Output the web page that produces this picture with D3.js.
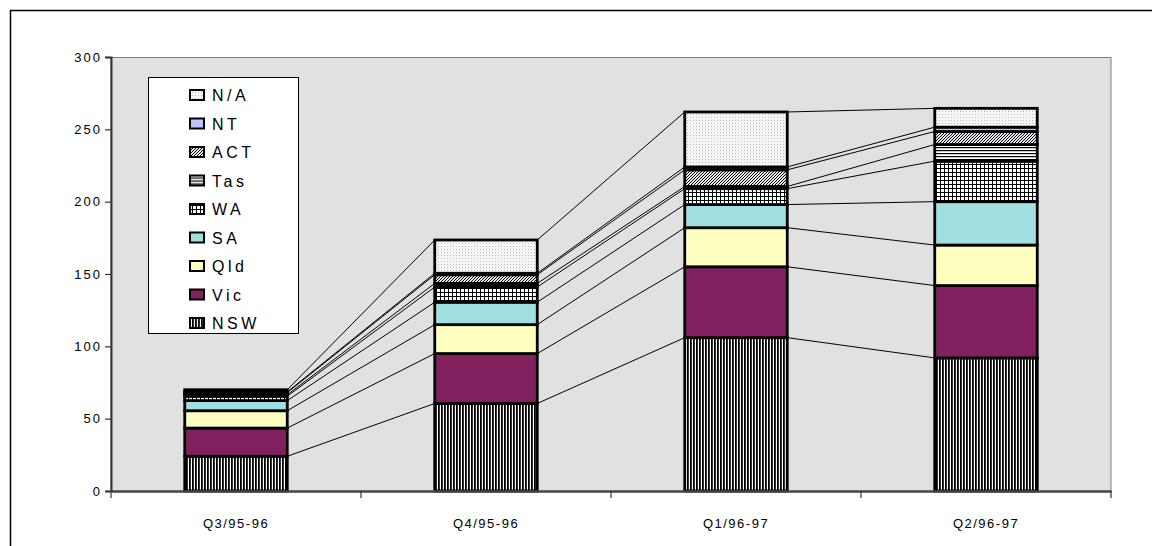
<!DOCTYPE html>
<html>
<head>
<meta charset="utf-8">
<script src="https://cdn.jsdelivr.net/npm/d3@7"></script>
<style>
  html, body { margin: 0; padding: 0; background: #fff; }
  svg { display: block; }
  text { font-family: Arial, "Liberation Sans", sans-serif; fill: #000; }
</style>
</head>
<body>
<svg id="chart" width="1152" height="546"></svg>
<script>
// Quarters along the x axis
const quarters = ["Q3/95-96", "Q4/95-96", "Q1/96-97", "Q2/96-97"];
// States, bottom of the stack first
const states = ["NSW", "Vic", "Qld", "SA", "WA", "Tas", "ACT", "NT", "N/A"];
// Values per state, one entry per quarter
const NSW = [24, 60.5, 106, 92];
const Vic = [19.5, 34.5, 49, 50];
const Qld = [12, 20, 27, 28];
const SA  = [7, 15.5, 16, 30];
const WA  = [3, 10.5, 11, 28];
const Tas = [1, 2.5, 1.5, 11.5];
const ACT = [1.5, 6, 11.5, 9];
const NT  = [0.5, 1, 2, 3];
const NA  = [1.5, 23, 38, 13];
const yTicks = [0, 50, 100, 150, 200, 250, 300];

const seriesValues = { NSW, Vic, Qld, SA, WA, Tas, ACT, NT, "N/A": NA };
const rows = quarters.map((q, i) => {
  const r = { quarter: q };
  states.forEach(s => r[s] = seriesValues[s][i]);
  return r;
});

const svg = d3.select("#chart");
const defs = svg.append("defs");

// Fill patterns
function pattern(id, w, h, draw) {
  const p = defs.append("pattern").attr("id", id)
    .attr("patternUnits", "userSpaceOnUse").attr("width", w).attr("height", h);
  draw(p);
}
pattern("pNSW", 3, 4, p => {
  p.append("rect").attr("width", 3).attr("height", 4).attr("fill", "#fff");
  p.append("rect").attr("width", 1.8).attr("height", 4).attr("fill", "#000");
});
pattern("pWA", 4, 4, p => {
  p.append("rect").attr("width", 4).attr("height", 4).attr("fill", "#fff");
  p.append("rect").attr("width", 4).attr("height", 1).attr("fill", "#000");
  p.append("rect").attr("width", 1).attr("height", 4).attr("fill", "#000");
});
pattern("pTas", 4, 3, p => {
  p.append("rect").attr("width", 4).attr("height", 3).attr("fill", "#fff");
  p.append("rect").attr("width", 4).attr("height", 1.2).attr("fill", "#000");
});
pattern("pACT", 3, 3, p => {
  p.append("rect").attr("width", 3).attr("height", 3).attr("fill", "#e8e8e8");
  p.append("path").attr("d", "M-1,1 L1,-1 M0,3 L3,0 M2,4 L4,2")
    .attr("stroke", "#000").attr("stroke-width", 1);
});
pattern("pNA", 3, 3, p => {
  p.append("rect").attr("width", 3).attr("height", 3).attr("fill", "#fbfbfb");
  p.append("rect").attr("x", 0).attr("y", 0).attr("width", 1).attr("height", 1).attr("fill", "#b8b8b8");
  p.append("rect").attr("x", 1.5).attr("y", 1.5).attr("width", 1).attr("height", 1).attr("fill", "#d8d8d8");
});

const fills = {
  "NSW": "url(#pNSW)",
  "Vic": "#80205f",
  "Qld": "#ffffc0",
  "SA": "#a0e0e0",
  "WA": "url(#pWA)",
  "Tas": "url(#pTas)",
  "ACT": "url(#pACT)",
  "NT": "#c0c0ff",
  "N/A": "url(#pNA)"
};

// Outer chart frame
svg.append("rect").attr("x", 10.5).attr("y", 10.5)
  .attr("width", 1300).attr("height", 700)
  .attr("fill", "#fff").attr("stroke", "#000").attr("stroke-width", 1.5);

const plot = { left: 111, right: 1111, top: 57, bottom: 491 };

const x = d3.scaleBand().domain(quarters).range([plot.left, plot.right]);
const y = d3.scaleLinear().domain([0, 300]).range([plot.bottom, plot.top]);
const barW = x.bandwidth() * 0.41;

// Plot area
svg.append("rect")
  .attr("x", plot.left).attr("y", plot.top + 0.5)
  .attr("width", plot.right - plot.left).attr("height", plot.bottom - plot.top)
  .attr("fill", "#e1e1e1").attr("stroke", "#808080").attr("stroke-width", 1);

const stack = d3.stack().keys(states)(rows);

// Series lines joining segment tops of neighbouring bars
const sl = svg.append("g").attr("stroke", "#000").attr("stroke-width", 1).attr("fill", "none");
stack.forEach(layer => {
  for (let i = 0; i < quarters.length - 1; i++) {
    sl.append("line")
      .attr("x1", x(quarters[i]) + x.bandwidth() / 2 + barW / 2)
      .attr("y1", y(layer[i][1]))
      .attr("x2", x(quarters[i + 1]) + x.bandwidth() / 2 - barW / 2)
      .attr("y2", y(layer[i + 1][1]));
  }
});

// Stacked bars
const bars = svg.append("g");
stack.forEach(layer => {
  bars.append("g").selectAll("rect").data(layer).join("rect")
    .attr("x", d => x(d.data.quarter) + x.bandwidth() / 2 - barW / 2)
    .attr("y", d => y(d[1]))
    .attr("width", barW)
    .attr("height", d => y(d[0]) - y(d[1]))
    .attr("fill", fills[layer.key])
    .attr("stroke", "#000").attr("stroke-width", 2.8);
});

// Y axis
const yAxis = svg.append("g").attr("transform", `translate(${plot.left},0)`)
  .call(d3.axisLeft(y).tickValues(yTicks).tickSize(6).tickPadding(3));
yAxis.select(".domain").attr("stroke", "#333").attr("stroke-width", 2);
yAxis.selectAll(".tick line").attr("stroke", "#333").attr("stroke-width", 1.2);
yAxis.selectAll(".tick text")
  .style("font-size", "13px").style("letter-spacing", "2px")
  .attr("font-family", null).attr("fill", "#000");

// X axis
const xAxis = svg.append("g").attr("transform", `translate(0,${plot.bottom})`)
  .call(d3.axisBottom(x).tickSize(0).tickPadding(28));
xAxis.select(".domain").attr("stroke", "#444").attr("stroke-width", 2.5);
xAxis.selectAll(".tick text")
  .style("font-size", "13px").style("letter-spacing", "1.5px")
  .attr("font-family", null).attr("fill", "#000");
// Category separators on the x axis
svg.append("g").selectAll("line").data(d3.range(quarters.length + 1)).join("line")
  .attr("x1", i => plot.left + i * x.step()).attr("x2", i => plot.left + i * x.step())
  .attr("y1", plot.bottom).attr("y2", plot.bottom + 7)
  .attr("stroke", "#333").attr("stroke-width", 1.2);

// Legend
const legend = svg.append("g");
legend.append("rect").attr("x", 148.5).attr("y", 77.5).attr("width", 150).attr("height", 256)
  .attr("fill", "#fff").attr("stroke", "#000").attr("stroke-width", 1);
const legendKeys = states.slice().reverse();
const li = legend.selectAll("g.item").data(legendKeys).join("g")
  .attr("class", "item")
  .attr("transform", (d, i) => `translate(0,${95 + i * 28.5})`);
li.append("rect").attr("x", 190).attr("y", -5).attr("width", 14).attr("height", 10)
  .attr("fill", d => fills[d]).attr("stroke", "#000").attr("stroke-width", 2);
li.append("text").attr("x", 212).attr("y", 6)
  .style("font-size", "16px").style("letter-spacing", "3.5px")
  .text(d => d);
</script>
</body>
</html>
